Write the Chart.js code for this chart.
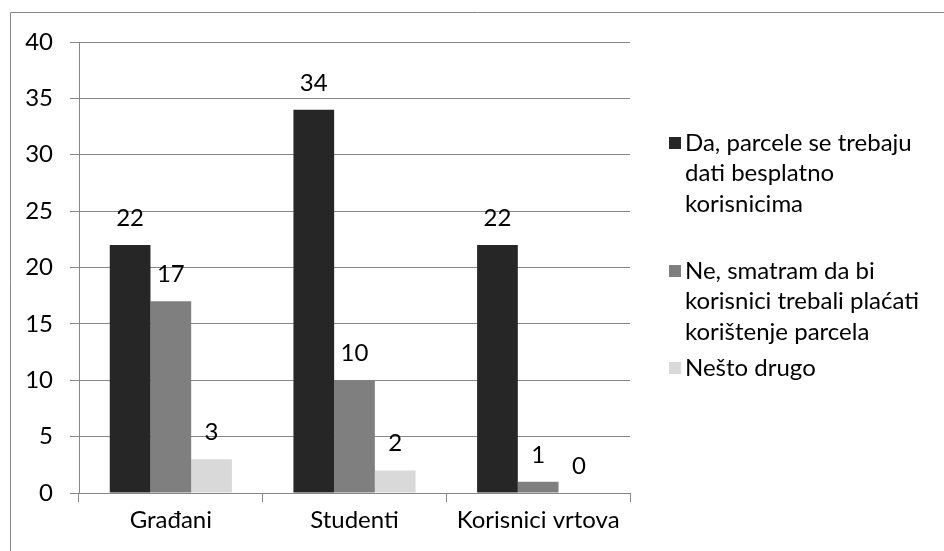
<!DOCTYPE html>
<html>
<head>
<meta charset="utf-8">
<script src="https://cdn.jsdelivr.net/npm/chart.js@4.4.0/dist/chart.umd.min.js"></script>
<style>
  body { margin: 0; background: #fff; }
</style>
</head>
<body>
<canvas id="grafikon" width="944" height="551"></canvas>
<script>
// Kategorije i vrijednosti očitane s grafikona
var kategorije = ['Građani', 'Studenti', 'Korisnici vrtova'];
var da_besplatno = [22, 34, 22];
var ne_placati = [17, 10, 1];
var nesto_drugo = [3, 2, 0];
var oznake_y = [0, 5, 10, 15, 20, 25, 30, 35, 40];

// Nazivi serija za legendu (po redovima, kao u originalu)
var naziv_da = ['Da, parcele se trebaju', 'dati besplatno', 'korisnicima'];
var naziv_ne = ['Ne, smatram da bi', 'korisnici trebali plaćati', 'korištenje parcela'];
var naziv_drugo = ['Nešto drugo'];

var FONT = { family: 'Lato', size: 24 };
var SIVA = '#868686';

// Okvir grafikona (lijevo i gore)
const okvirPlugin = {
  id: 'okvir',
  beforeDraw(chart) {
    const ctx = chart.ctx;
    ctx.save();
    ctx.fillStyle = '#fff';
    ctx.fillRect(0, 0, chart.width, chart.height);
    ctx.strokeStyle = SIVA;
    ctx.lineWidth = 1;
    ctx.beginPath();
    ctx.moveTo(10.5, chart.height);
    ctx.lineTo(10.5, 12.5);
    ctx.lineTo(chart.width, 12.5);
    ctx.stroke();
    ctx.restore();
  }
};

// Vrijednosti iznad stupaca
const vrijednostiPlugin = {
  id: 'vrijednosti',
  afterDatasetsDraw(chart) {
    const ctx = chart.ctx;
    ctx.save();
    ctx.font = FONT.size + 'px ' + FONT.family;
    ctx.fillStyle = '#000';
    ctx.textAlign = 'center';
    ctx.textBaseline = 'alphabetic';
    chart.data.datasets.forEach((ds, i) => {
      chart.getDatasetMeta(i).data.forEach((bar, j) => {
        ctx.fillText(ds.data[j], bar.x, bar.y - 19);
      });
    });
    ctx.restore();
  }
};

// Legenda s desne strane (više redova po seriji)
var legenda_y = [143, 271, 368];
const legendaPlugin = {
  id: 'legenda',
  afterDraw(chart) {
    const ctx = chart.ctx;
    ctx.save();
    ctx.font = FONT.size + 'px ' + FONT.family;
    ctx.textBaseline = 'middle';
    ctx.textAlign = 'left';
    chart.data.datasets.forEach((ds, i) => {
      const y = legenda_y[i];
      ctx.fillStyle = ds.backgroundColor;
      ctx.fillRect(669, y - 6, 12, 12);
      ctx.fillStyle = '#000';
      ds.redovi.forEach((red, j) => {
        ctx.fillText(red, 685, y + j * 30.5);
      });
    });
    ctx.restore();
  }
};

const data = {
  labels: kategorije,
  datasets: [
    { label: naziv_da.join(' '), redovi: naziv_da, data: da_besplatno, backgroundColor: '#262626' },
    { label: naziv_ne.join(' '), redovi: naziv_ne, data: ne_placati, backgroundColor: '#7f7f7f' },
    { label: naziv_drugo.join(' '), redovi: naziv_drugo, data: nesto_drugo, backgroundColor: '#d9d9d9' }
  ]
};

const config = {
  type: 'bar',
  data: data,
  options: {
    responsive: false,
    animation: false,
    devicePixelRatio: 1,
    datasets: { bar: { categoryPercentage: 0.665, barPercentage: 1 } },
    layout: { padding: { left: 0, top: 42, right: 314, bottom: 0 } },
    plugins: { legend: { display: false }, tooltip: { enabled: false } },
    scales: {
      x: {
        grid: { display: true, drawOnChartArea: false, tickLength: 9, color: SIVA, offset: true },
        border: { color: SIVA },
        ticks: { font: FONT, color: '#000', padding: 4 },
        afterFit: (s) => { s.height = 58; }
      },
      y: {
        min: 0,
        max: 40,
        grid: { color: SIVA, tickLength: 9 },
        border: { color: SIVA },
        ticks: { font: FONT, color: '#000', padding: 17 },
        afterBuildTicks: (s) => { s.ticks = oznake_y.map(v => ({ value: v })); },
        afterFit: (s) => { s.width = 79; }
      }
    }
  },
  plugins: [okvirPlugin, vrijednostiPlugin, legendaPlugin]
};

const grafikon = new Chart(document.getElementById('grafikon'), config);
</script>
</body>
</html>
